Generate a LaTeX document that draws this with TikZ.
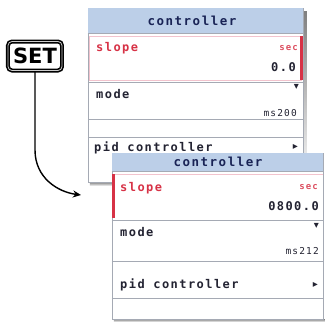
\documentclass[tikz,border=0pt]{standalone}
\usepackage{fontspec}
\setmainfont{DejaVu Sans}
\newfontfamily\uimono[LetterSpace=12]{DejaVu Sans Mono}
\newfontfamily\keyfont{DejaVu Sans}
\usetikzlibrary{arrows.meta}

\definecolor{hdrblue}{RGB}{188,207,232}
\definecolor{hdrtext}{RGB}{25,35,85}
\definecolor{rowred}{RGB}{215,50,70}
\definecolor{rowpink}{RGB}{242,195,205}
\definecolor{panelline}{RGB}{165,170,180}
\definecolor{shade}{RGB}{125,125,130}
\definecolor{valtext}{RGB}{35,35,50}

\tikzset{
  hdr/.style={font=\uimono\bfseries\fontsize{12.5}{12.5}\selectfont, text=hdrtext, inner sep=0pt},
  lbl/.style={font=\uimono\bfseries\fontsize{12}{12}\selectfont, text=valtext, inner sep=0pt},
  redlbl/.style={lbl, text=rowred},
  unit/.style={font=\uimono\bfseries\fontsize{9}{9}\selectfont, text=rowred!85, inner sep=0pt},
  val/.style={font=\uimono\bfseries\fontsize{12}{12}\selectfont, text=valtext, inner sep=0pt},
  small/.style={font=\uimono\fontsize{9.5}{9.5}\selectfont, text=valtext, inner sep=0pt},
  glyph/.style={font=\fontsize{10}{10}\selectfont, text=valtext, inner sep=0pt},
  divider/.style={draw=panelline, line width=0.8pt},
}

\begin{document}
\begin{tikzpicture}[x=1pt,y=-1pt]
\useasboundingbox (0,0) rectangle (325,322);
\fill[white] (0,0) rectangle (325,322);

% ---- back panel ----
\fill[shade] (303,11) rectangle (307,186);
\fill[shade] (90,182) rectangle (307,186);
\filldraw[fill=white, draw=panelline, line width=0.8pt] (88,8) rectangle (303,182);
\fill[hdrblue] (88,8) rectangle (303,33);
\draw[divider] (88,33) -- (303,33);
\node[hdr] (h1) at (192,21) {controller};
\draw[rowpink, line width=1pt] (89.5,36) rectangle (301.5,80);
\fill[rowred] (300,36) rectangle (303.5,80);
\node[redlbl, anchor=west] (s1) at (96,48) {slope};
\node[unit, anchor=east] (u1) at (298,48) {sec};
\node[val, anchor=east] (v1) at (296,67) {0.0};
\draw[divider] (88,82) -- (303,82);
\node[lbl, anchor=west] (m1) at (96,94) {mode};
\node[glyph, anchor=east] (d1) at (299,87) {▾};
\node[small, anchor=east] (ms1) at (297,113) {ms200};
\draw[divider] (88,119) -- (303,119);
\draw[divider] (88,137) -- (303,137);
\node[lbl, anchor=west] (p1) at (94,148) {pid controller};
\node[glyph, anchor=east] (a1) at (298,147) {▸};

% ---- front panel ----
\fill[shade] (114,319) rectangle (325,322);
\filldraw[fill=white, draw=panelline, line width=0.8pt] (112,153) rectangle (323.5,319);
\fill[hdrblue] (112,153) rectangle (323.5,171);
\draw[divider] (112,171) -- (323.5,171);
\node[hdr] (h2) at (218,161.5) {controller};
\fill[rowred] (112,174) rectangle (115,218);
\draw[rowpink, line width=0.6pt] (115,174) -- (323,174);
\node[redlbl, anchor=west] (s2) at (120,188) {slope};
\node[unit, anchor=east] (u2) at (318,187) {sec};
\node[val, anchor=east] (v2) at (319,206) {0800.0};
\draw[divider] (112,220) -- (323.5,220);
\node[lbl, anchor=west] (m2) at (120,232) {mode};
\node[glyph, anchor=east] (d2) at (319,226) {▾};
\node[small, anchor=east] (ms2) at (319,251) {ms212};
\draw[divider] (112,261) -- (323.5,261);
\node[lbl, anchor=west] (p2) at (120,285) {pid controller};
\node[glyph, anchor=east] (a2) at (318,285) {▸};
\draw[divider] (112,298) -- (323.5,298);

% ---- SET key and arrow ----
\node[draw=black, line width=1.6pt, rounded corners=4pt, fill=white,
      minimum width=54pt, minimum height=29pt, inner sep=0pt,
      font=\keyfont\bfseries\fontsize{21}{21}\selectfont,
      double=gray!40, double distance=0.8pt] (set) at (35,56) {SET};
\coordinate (tip) at (81,195);
\draw[line width=1.4pt, -{Stealth[length=8pt,width=7pt]}]
  (set.south) -- (35,150) .. controls (35,178) and (58,192) .. (tip);
\end{tikzpicture}
\end{document}
